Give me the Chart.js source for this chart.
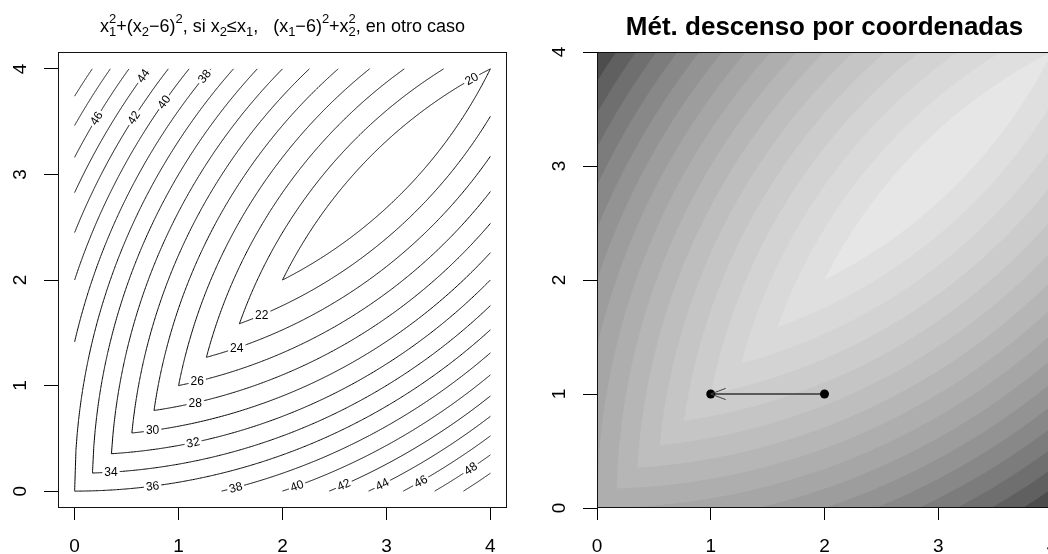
<!DOCTYPE html>
<html>
<head>
<meta charset="utf-8">
<script src="https://cdn.jsdelivr.net/npm/chart.js@4.4.0/dist/chart.umd.min.js"></script>
<style>
html, body { margin: 0; padding: 0; background: #fff; width: 1048px; height: 554px; overflow: hidden; }
#left { position: absolute; left: 0; top: 0; }
#right { position: absolute; left: 540px; top: 0; }
</style>
</head>
<body>
<canvas id="left" width="540" height="554"></canvas>
<canvas id="right" width="560" height="554"></canvas>
<script>
// levels (52 only touches the two corners)
var contourLevels = [20, 22, 24, 26, 28, 30, 32, 34, 36, 38, 40, 42, 44, 46, 48, 50];
// filled bands of the right panel, f < level, lightest first
var fillLevels = [20, 22, 24, 26, 28, 30, 32, 34, 36, 38, 40, 42, 44, 46, 48, 50, 52];
var bandGrays = [230, 223, 217, 211, 204, 197, 190, 182, 174, 166, 157, 147, 136, 124, 111, 96, 77];
var tickValues = [0, 1, 2, 3, 4];
// coordinate descent step, (2,1) -> (1,1)
var pathX = [2, 1];
var pathY = [1, 1];
// where the contour labels sit: level, x1, branch, fixed angle (deg) if any
var labelSpots = [
    [20, 3.82, 'up'],
    [22, 1.80, 'lo', 0], [24, 1.56, 'lo', 0], [26, 1.18, 'lo', 0], [28, 1.16, 'lo', 0],
    [30, 0.75, 'lo', 0], [32, 1.14, 'lo'], [34, 0.35, 'lo', 0], [36, 0.75, 'lo'],
    [38, 1.55, 'lo'], [40, 2.14, 'lo'], [42, 2.59, 'lo'], [44, 2.96, 'lo'], [46, 3.33, 'lo'], [48, 3.81, 'lo'],
    [38, 1.25, 'up'], [40, 0.86, 'up'], [42, 0.57, 'up'], [44, 0.66, 'up'], [46, 0.21, 'up']
];

var FONT = "'Liberation Sans', Arial, Helvetica, sans-serif";
Chart.defaults.font.family = FONT;
Chart.defaults.color = '#000';

// the function from the title: x1^2+(x2-6)^2 if x2<=x1, (x1-6)^2+x2^2 otherwise
function lowBranch(c, x) { return 6 - Math.sqrt(Math.max(0, c - x * x)); }
function upBranch(c, x) { return Math.sqrt(Math.max(0, c - (x - 6) * (x - 6))); }
function diagSpan(c) {
    var h = Math.sqrt((c - 18) / 2);
    return [Math.max(0, 3 - h), Math.min(4, 3 + h)];
}
function steps(a, b, n) {
    var out = [];
    for (var i = 0; i <= n; i++) out.push(a + (b - a) * i / n);
    return out;
}

function contourLine(c) {
    var d = diagSpan(c), a = d[0], b = d[1];
    var upEnd = Math.min(b, 6 - Math.sqrt(c - 16));
    var lowStart = Math.max(a, Math.sqrt(Math.max(0, c - 36)));
    var pts = steps(a, upEnd, 120).reverse().map(function (x) { return { x: x, y: Math.min(4, upBranch(c, x)) }; });
    if (a === 0) pts.push({ x: 0, y: null });
    steps(lowStart, b, 120).forEach(function (x) { pts.push({ x: x, y: Math.max(0, lowBranch(c, x)) }); });
    return pts;
}

function bandEdges(c) {
    var d = diagSpan(c), xs = steps(d[0], d[1], 200);
    [6 - Math.sqrt(c - 16), Math.sqrt(Math.max(0, c - 36))].forEach(function (k) {
        if (k > d[0] && k < d[1]) xs.push(k);
    });
    xs.sort(function (p, q) { return p - q; });
    return {
        top: xs.map(function (x) { return { x: x, y: Math.min(4, upBranch(c, x)) }; }),
        bottom: xs.map(function (x) { return { x: x, y: Math.max(0, lowBranch(c, x)) }; })
    };
}

function axis(min, max, tickLen, size, horizontal) {
    return {
        type: 'linear',
        min: min,
        max: max,
        afterBuildTicks: function (s) { s.ticks = tickValues.map(function (v) { return { value: v }; }); },
        afterFit: function (s) { if (horizontal) s.height = size; else s.width = size; },
        grid: { drawOnChartArea: false, drawTicks: true, tickLength: tickLen, color: '#000', lineWidth: 1 },
        border: { display: false },
        ticks: {
            autoSkip: false,
            maxRotation: 0,
            padding: 15,
            font: { size: 19 },
            color: horizontal ? '#000' : 'rgba(0,0,0,0)'
        }
    };
}

// R-like frame: box and y tick labels read upwards
var frame = {
    id: 'frame',
    afterDraw: function (chart) {
        var ctx = chart.ctx, a = chart.chartArea, ys = chart.scales.y;
        ctx.save();
        ctx.strokeStyle = '#111';
        ctx.lineWidth = 1;
        ctx.strokeRect(Math.round(a.left) + 0.5, Math.round(a.top) + 0.5, Math.round(a.right - a.left) - 1, Math.round(a.bottom - a.top) - 1);
        ctx.fillStyle = '#000';
        ctx.font = '19px ' + FONT;
        ctx.textAlign = 'center';
        ctx.textBaseline = 'middle';
        tickValues.forEach(function (v) {
            ctx.save();
            ctx.translate(a.left - 38, ys.getPixelForValue(v));
            ctx.rotate(-Math.PI / 2);
            ctx.fillText(String(v), 0, 1);
            ctx.restore();
        });
        ctx.restore();
    }
};

var titleParts = [
    ['x'], ['1', '2', 'ss'], ['+(x'], ['2', 'sub'], ['\u22126)'], ['2', 'sup'], [', si x'], ['2', 'sub'],
    ['\u2264x'], ['1', 'sub'], [',   (x'], ['1', 'sub'], ['\u22126)'], ['2', 'sup'], ['+x'], ['2', '2', 'ss'],
    [', en otro caso']
];

var mathTitle = {
    id: 'mathTitle',
    afterDraw: function (chart) {
        var ctx = chart.ctx, a = chart.chartArea, fs = 18, small = 13;
        var base = 32, big = fs + 'px ' + FONT, little = small + 'px ' + FONT;
        ctx.save();
        ctx.fillStyle = '#000';
        ctx.textBaseline = 'alphabetic';
        ctx.textAlign = 'left';
        function width(p) {
            if (p.length === 1) { ctx.font = big; return ctx.measureText(p[0]).width; }
            ctx.font = little;
            if (p[2] === 'ss') return Math.max(ctx.measureText(p[0]).width, ctx.measureText(p[1]).width);
            return ctx.measureText(p[0]).width;
        }
        var total = 0;
        titleParts.forEach(function (p) { total += width(p); });
        var x = (a.left + a.right) / 2 - total / 2;
        titleParts.forEach(function (p) {
            var w = width(p);
            if (p.length === 1) { ctx.font = big; ctx.fillText(p[0], x, base); }
            else {
                ctx.font = little;
                if (p[2] === 'ss') {
                    ctx.fillText(p[0], x, base + 4);
                    ctx.fillText(p[1], x, base - 9);
                } else if (p[1] === 'sub') ctx.fillText(p[0], x, base + 4);
                else ctx.fillText(p[0], x, base - 9);
            }
            x += w;
        });
        ctx.restore();
    }
};

var contourLabels = {
    id: 'contourLabels',
    afterDatasetsDraw: function (chart) {
        var ctx = chart.ctx, xs = chart.scales.x, ys = chart.scales.y;
        ctx.save();
        ctx.font = '12px ' + FONT;
        ctx.textAlign = 'center';
        ctx.textBaseline = 'middle';
        labelSpots.forEach(function (s) {
            var c = s[0], fx = s[2] === 'up' ? upBranch : lowBranch;
            var px = xs.getPixelForValue(s[1]), py = ys.getPixelForValue(fx(c, s[1]));
            var ang;
            if (s.length > 3) ang = s[3] * Math.PI / 180;
            else {
                var x0 = xs.getPixelForValue(s[1] - 0.02), y0 = ys.getPixelForValue(fx(c, s[1] - 0.02));
                var x1 = xs.getPixelForValue(s[1] + 0.02), y1 = ys.getPixelForValue(fx(c, s[1] + 0.02));
                ang = Math.atan2(y1 - y0, x1 - x0);
            }
            var txt = String(c), w = ctx.measureText(txt).width;
            ctx.save();
            ctx.translate(px, py);
            ctx.rotate(ang);
            ctx.fillStyle = '#fff';
            ctx.fillRect(-w / 2 - 2, -5, w + 4, 10);
            ctx.fillStyle = '#000';
            ctx.fillText(txt, 0, 0.5);
            ctx.restore();
        });
        ctx.restore();
    }
};

// a tiny tension keeps Chart.js off its per-pixel "fast path", which makes steep lines look dashed
new Chart(document.getElementById('left'), {
    type: 'line',
    data: {
        datasets: contourLevels.map(function (c) {
            return { label: String(c), data: contourLine(c), borderColor: '#000', borderWidth: 1, pointRadius: 0, fill: false, spanGaps: false, tension: 0.0001 };
        })
    },
    options: {
        responsive: false,
        animation: false,
        events: [],
        layout: { padding: { left: 0, top: 52, right: 33, bottom: 0 } },
        plugins: { legend: { display: false }, tooltip: { enabled: false } },
        scales: {
            x: axis(-0.16, 4.16, 12, 46, true),
            y: axis(-0.16, 4.16, 14, 58, false)
        }
    },
    plugins: [contourLabels, frame, mathTitle]
});

var rightSets = [{
    label: 'camino',
    data: pathX.map(function (x, i) { return { x: x, y: pathY[i] }; }),
    borderColor: '#333',
    borderWidth: 1.3,
    pointRadius: 4.5,
    pointBackgroundColor: '#000',
    pointBorderWidth: 0,
    fill: false
}];
fillLevels.forEach(function (c, i) {
    var e = bandEdges(c), g = bandGrays[i];
    rightSets.push({ label: 'f<' + c, data: e.top, borderWidth: 0, pointRadius: 0, tension: 0.0001, fill: '+1', backgroundColor: 'rgb(' + g + ',' + g + ',' + g + ')' });
    rightSets.push({ label: 'b' + c, data: e.bottom, borderWidth: 0, pointRadius: 0, tension: 0.0001, fill: false });
});

var arrowHead = {
    id: 'arrowHead',
    afterDatasetsDraw: function (chart) {
        var ctx = chart.ctx, xs = chart.scales.x, ys = chart.scales.y, n = pathX.length;
        var tx = xs.getPixelForValue(pathX[n - 1]), ty = ys.getPixelForValue(pathY[n - 1]);
        var fx = xs.getPixelForValue(pathX[n - 2]), fy = ys.getPixelForValue(pathY[n - 2]);
        var ang = Math.atan2(fy - ty, fx - tx), len = 16, spread = 0.36;
        ctx.save();
        ctx.strokeStyle = '#444';
        ctx.lineWidth = 1;
        ctx.beginPath();
        ctx.moveTo(tx + len * Math.cos(ang - spread), ty + len * Math.sin(ang - spread));
        ctx.lineTo(tx, ty);
        ctx.lineTo(tx + len * Math.cos(ang + spread), ty + len * Math.sin(ang + spread));
        ctx.stroke();
        ctx.restore();
    }
};

var boldTitle = {
    id: 'boldTitle',
    afterDraw: function (chart) {
        var ctx = chart.ctx, a = chart.chartArea;
        ctx.save();
        ctx.fillStyle = '#000';
        ctx.font = 'bold 26px ' + FONT;
        ctx.textAlign = 'center';
        ctx.textBaseline = 'alphabetic';
        ctx.fillText('Mét. descenso por coordenadas', (a.left + a.right) / 2, 35);
        ctx.restore();
    }
};

new Chart(document.getElementById('right'), {
    type: 'line',
    data: { datasets: rightSets },
    options: {
        responsive: false,
        animation: false,
        events: [],
        layout: { padding: { left: 0, top: 52, right: 48, bottom: 0 } },
        plugins: { legend: { display: false }, tooltip: { enabled: false } },
        scales: {
            x: axis(0, 4, 12, 46, true),
            y: axis(0, 4, 14, 57, false)
        }
    },
    plugins: [arrowHead, frame, boldTitle]
});
</script>
</body>
</html>
